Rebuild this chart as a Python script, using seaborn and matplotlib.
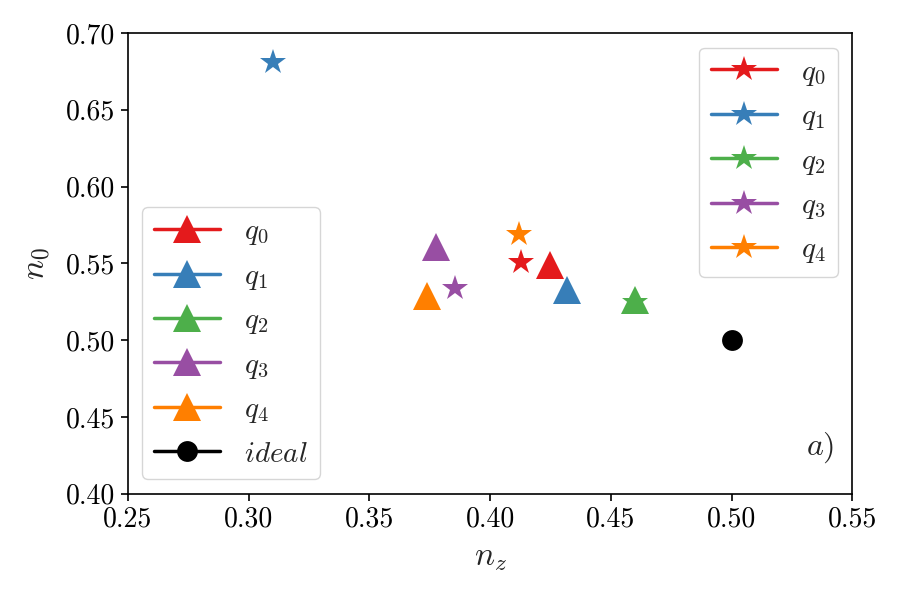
import numpy as np
import pandas as pd
import matplotlib
matplotlib.use("Agg")
import matplotlib.pyplot as plt
import seaborn as sns

# data
qubits = ["$q_0$", "$q_1$", "$q_2$", "$q_3$", "$q_4$"]
colors = ["#e41a1c", "#377eb8", "#4daf4a", "#984ea3", "#ff7f00"]

tri_nz = [0.425, 0.432, 0.460, 0.3775, 0.374]
tri_n0 = [0.549, 0.533, 0.526, 0.561, 0.529]

star_nz = [0.413, 0.310, 0.460, 0.3855, 0.412]
star_n0 = [0.551, 0.681, 0.525, 0.534, 0.569]

ideal_nz = [0.5]
ideal_n0 = [0.5]

x_ticks = [0.25, 0.30, 0.35, 0.40, 0.45, 0.50, 0.55]
y_ticks = [0.40, 0.45, 0.50, 0.55, 0.60, 0.65, 0.70]

sns.set_style("ticks")
plt.rcParams["font.family"] = ["serif"]
plt.rcParams["font.serif"] = ["cmr10", "DejaVu Serif"]
plt.rcParams["mathtext.fontset"] = "cm"
plt.rcParams["axes.formatter.use_mathtext"] = True
plt.rcParams["axes.unicode_minus"] = False

fig = plt.figure(figsize=(9, 6), dpi=100)
ax = fig.add_axes([0.142, 0.177, 0.805, 0.768])

tri_lines = []
for lab, c, x, y in zip(qubits, colors, tri_nz, tri_n0):
    sns.lineplot(x=[x], y=[y], ax=ax, color=c, marker="^", markersize=20,
                 markeredgewidth=0, linewidth=2.5, label=lab, legend=False)
    tri_lines.append(ax.lines[-1])

star_lines = []
for lab, c, x, y in zip(qubits, colors, star_nz, star_n0):
    sns.lineplot(x=[x], y=[y], ax=ax, color=c, marker="*", markersize=19,
                 markeredgewidth=0, linewidth=2.5, label=lab, legend=False)
    star_lines.append(ax.lines[-1])

sns.lineplot(x=ideal_nz, y=ideal_n0, ax=ax, color="black", marker="o",
             markersize=15, markeredgewidth=0, linewidth=2.5,
             label="$ideal$", legend=False)
ideal_line = ax.lines[-1]

ax.set_xlim(0.25, 0.55)
ax.set_ylim(0.40, 0.70)
ax.set_xticks(x_ticks)
ax.set_yticks(y_ticks)
ax.set_xticklabels([f"{v:.2f}" for v in x_ticks])
ax.set_yticklabels([f"{v:.2f}" for v in y_ticks])
ax.tick_params(labelsize=20, direction="out", length=5, width=1.2,
               colors="black", pad=4)
for s in ax.spines.values():
    s.set_color("black")
    s.set_linewidth(1.2)

ax.set_xlabel("$n_z$", fontsize=24, labelpad=8)
ax.set_ylabel("$n_0$", fontsize=24, labelpad=10)

leg_kw = dict(fontsize=21, handlelength=2.25, labelspacing=0.55,
              handletextpad=0.85, borderaxespad=0.5, framealpha=0.8,
              edgecolor="#cccccc", fancybox=True)
leg1 = ax.legend(handles=tri_lines + [ideal_line],
                 labels=qubits + ["$ideal$"], loc="lower left", **leg_kw)
ax.add_artist(leg1)
ax.legend(handles=star_lines, labels=qubits, loc="upper right", **leg_kw)

ax.text(0.975, 0.1, "$a)$", transform=ax.transAxes, fontsize=23,
        ha="right", va="center")

fig.savefig("out.png", dpi=100)
